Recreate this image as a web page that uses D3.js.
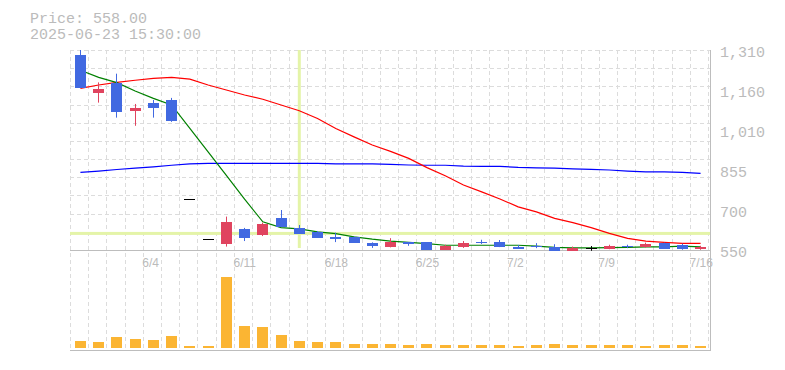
<!DOCTYPE html>
<html>
<head>
<meta charset="utf-8">
<script src="https://cdn.jsdelivr.net/npm/d3@7"></script>
<style>
  body { margin: 0; background: #fff; }
  text { font-family: "Liberation Mono", monospace; }
</style>
</head>
<body>
<div class="chart"></div>
<script>
// trading days
const dates = ["5/29","5/30","6/2","6/3","6/4","6/5","6/6","6/9","6/10","6/11","6/12","6/13",
  "6/16","6/17","6/18","6/19","6/20","6/23","6/24","6/25","6/26","6/27","6/30",
  "7/1","7/2","7/3","7/4","7/7","7/8","7/9","7/10","7/11","7/14","7/15","7/16"];

const open  = [1291,1148,1186,1078,1109,1120,744,591,574,630,607,673,634,620,599,601,578,563,580,580,550,561,582,580,561,566,563,547,557,554,566,561,578,569,554];
const close = [1167,1162,1076,1090,1091,1041,744,591,658,597,650,637,612,597,592,578,566,580,572,550,566,577,578,561,554,561,547,559,557,565,561,573,554,554,563];
const high  = [1310,1187,1220,1105,1120,1128,744,591,677,634,654,702,645,622,616,601,579,595,580,580,570,584,589,588,569,576,572,563,565,570,570,578,578,574,566];
const low   = [1167,1110,1053,1022,1053,1037,744,591,563,584,603,637,612,596,580,578,558,560,566,550,550,558,573,561,554,557,547,547,547,553,557,559,554,551,551];

// volume, thousand shares
const volume = [70,60,110,90,80,120,20,20,710,220,210,130,70,60,60,40,40,40,30,40,30,30,30,30,20,30,40,30,30,30,30,20,30,30,20];

// moving averages
const ma5  = [1233,1206,1186,1154,1126,1101,1012,923,834,743,657,635,630,619,612,600,591,584,579,574,568,568,568,568,568,565,560,558,558,559,560,562,562,565,562];
const ma25 = [1164,1177,1187,1195,1202,1206,1199,1177,1158,1139,1123,1101,1079,1050,1012,980,949,925,898,863,832,797,771,744,714,695,670,654,635,613,594,584,579,575,575];
const ma75 = [845,850,856,861,866,872,877,879,879,879,879,879,879,879,877,877,877,875,873,872,872,869,868,868,864,862,861,858,856,854,850,847,847,845,841];

const yTickValues = [550, 702, 854, 1006, 1158, 1310];
const yTickLabels = ["550", "700", "855", "1,010", "1,160", "1,310"];
const xTickDates = ["6/4", "6/11", "6/18", "6/25", "7/2", "7/9", "7/16"];

const priceLabel = "Price: 558.00";
const timeLabel = "2025-06-23 15:30:00";
const cursorIndex = 12, cursorPrice = 613;

const width = 785, height = 370;

const svg = d3.select('.chart').append('svg')
    .attr("width", width)
    .attr("height", height);

const xScale = d3.scaleBand().domain(dates).range([70.3, 708.7]);
const cx = i => xScale(dates[i]) + xScale.bandwidth() / 2 + 1;

const yScale = d3.scaleLinear().domain([550, 1310]).range([250, 50]);
const volScale = d3.scaleLinear().domain([0, d3.max(volume)]).range([348, 277]);

const gridColor = "#dcdcdc";
const axisColor = "#bdbdbd";

// vertical grid, one per day boundary
svg.append("g").selectAll("line")
  .data(d3.range(dates.length + 1))
  .enter()
  .append("line")
  .attr("x1", k => Math.floor(xScale.range()[0] + k * xScale.step()) + 0.5)
  .attr("x2", k => Math.floor(xScale.range()[0] + k * xScale.step()) + 0.5)
  .attr("y1", 50)
  .attr("y2", 348)
  .style("stroke", gridColor)
  .style("stroke-dasharray", "4,3");

// horizontal grid
svg.append("g").selectAll("line")
  .data(d3.range(11))
  .enter()
  .append("line")
  .attr("x1", 70)
  .attr("x2", 710)
  .attr("y1", k => Math.round(50 + k * 200 / 11) + 0.5)
  .attr("y2", k => Math.round(50 + k * 200 / 11) + 0.5)
  .style("stroke", gridColor)
  .style("stroke-dasharray", "4,3");

// axis lines
svg.append("line").attr("x1", 70).attr("x2", 711).attr("y1", 250.5).attr("y2", 250.5).style("stroke", axisColor);
svg.append("line").attr("x1", 70).attr("x2", 711).attr("y1", 350.5).attr("y2", 350.5).style("stroke", axisColor);
svg.append("line").attr("x1", 710.5).attr("x2", 710.5).attr("y1", 50).attr("y2", 351).style("stroke", axisColor);

// cursor
svg.append("rect")
  .attr("x", cx(cursorIndex) - 1.5)
  .attr("y", 50)
  .attr("width", 3)
  .attr("height", 198)
  .style("fill", "#e4f4a8");
svg.append("rect")
  .attr("x", 70)
  .attr("y", yScale(cursorPrice) - 1.5)
  .attr("width", 640)
  .attr("height", 3)
  .style("fill", "#e4f4a8");

// moving average lines
const line = d3.line().x((d, i) => cx(i)).y(d => yScale(d));
[[ma75, "#0000ff"], [ma25, "#ff0000"], [ma5, "#008000"]].forEach(([vals, col]) => {
  svg.append("path")
    .datum(vals)
    .attr("d", line)
    .style("fill", "none")
    .style("stroke", col)
    .style("stroke-width", 1.2);
});

// candles
const upColor = "#e0445f", downColor = "#4169e1";
const candleColor = i => close[i] > open[i] ? upColor : (close[i] < open[i] ? downColor : "#000");

const candles = svg.append("g").selectAll("g")
  .data(d3.range(dates.length))
  .enter()
  .append("g");

candles.append("line")
  .attr("x1", i => Math.floor(cx(i)) + 0.5)
  .attr("x2", i => Math.floor(cx(i)) + 0.5)
  .attr("y1", i => yScale(high[i]))
  .attr("y2", i => yScale(low[i]))
  .style("stroke", candleColor);

candles.append("rect")
  .attr("x", i => cx(i) - 5.5)
  .attr("y", i => open[i] == close[i] ? Math.round(yScale(close[i])) : yScale(Math.max(open[i], close[i])))
  .attr("width", 11)
  .attr("height", i => Math.max(1, Math.abs(yScale(open[i]) - yScale(close[i]))))
  .attr("shape-rendering", "crispEdges")
  .style("fill", candleColor);

// volume
svg.append("g").selectAll("rect")
  .data(volume)
  .enter()
  .append("rect")
  .attr("x", (d, i) => cx(i) - 5.5)
  .attr("y", d => volScale(d))
  .attr("width", 11)
  .attr("height", d => volScale(0) - volScale(d))
  .attr("shape-rendering", "crispEdges")
  .style("fill", "#fbb533");

// y labels
svg.append("g").selectAll("text")
  .data(yTickValues)
  .enter()
  .append("text")
  .attr("x", 720)
  .attr("y", d => yScale(d) + 7)
  .attr("font-size", 15)
  .style("fill", "#bbb")
  .text((d, i) => yTickLabels[i]);

// x labels, left aligned on the day start
svg.append("g").selectAll("text")
  .data(xTickDates)
  .enter()
  .append("text")
  .attr("x", d => xScale(d) - 1)
  .attr("y", 267)
  .attr("font-size", 12)
  .style("font-family", "'Liberation Sans', sans-serif")
  .style("fill", "#bbb")
  .text(d => d);

// header
svg.append("text").attr("x", 30).attr("y", 23).attr("font-size", 15).style("fill", "#bbb").text(priceLabel);
svg.append("text").attr("x", 30).attr("y", 38.5).attr("font-size", 15).style("fill", "#bbb").text(timeLabel);
</script>
</body>
</html>
